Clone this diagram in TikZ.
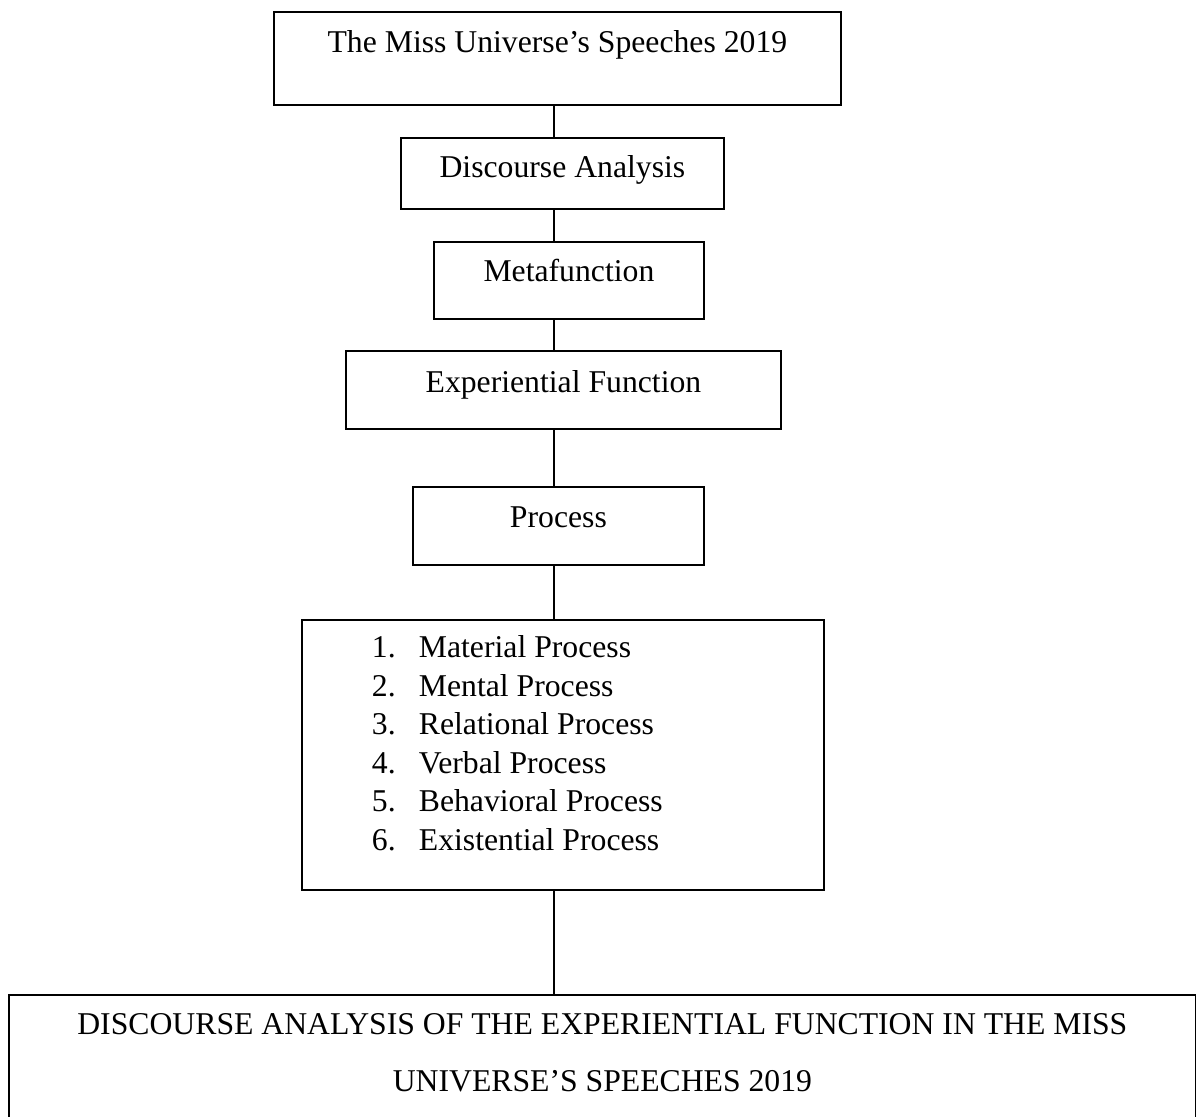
\documentclass[tikz,border=0pt]{standalone}
\usepackage{fontspec}
\setmainfont{Liberation Serif}
\newdimen\pxu
\pxu=0.3785pt

\begin{document}
\begin{tikzpicture}[x=\pxu, y=-\pxu,
		box/.style={draw, line width=0.7pt, inner sep=0pt, anchor=north west, font=\fontsize{12pt}{14.4pt}\selectfont},
		link/.style={line width=0.6pt}]
		\useasboundingbox (0,0) rectangle (1196,1117);
		\coordinate (spine) at (554,0);
		\node [box, minimum width=567\pxu, text height=41\pxu, text depth=52\pxu] (speech) at (273,11) {The Miss Universe’s Speeches 2019};
		\node [box, minimum width=323\pxu, text height=40\pxu, text depth=31\pxu] (discourse) at (400,137) {Discourse Analysis};
		\node [box, minimum width=270\pxu, text height=40\pxu, text depth=37\pxu] (meta) at (433,241) {Metafunction};
		\node [box, minimum width=435\pxu, text height=42\pxu, text depth=36\pxu] (exper) at (345,350) {Experiential Function};
		\node [box, minimum width=291\pxu, text height=41\pxu, text depth=37\pxu] (process) at (412,486) {Process};
		\node [box, text height=38\pxu, text depth=232\pxu] (types) at (301,619) {\parbox[t]{522\pxu}{\raggedright\baselineskip=38.5\pxu
			\hspace*{70\pxu}\makebox[47\pxu][l]{1.}Material Process\\
			\hspace*{70\pxu}\makebox[47\pxu][l]{2.}Mental Process\\
			\hspace*{70\pxu}\makebox[47\pxu][l]{3.}Relational Process\\
			\hspace*{70\pxu}\makebox[47\pxu][l]{4.}Verbal Process\\
			\hspace*{70\pxu}\makebox[47\pxu][l]{5.}Behavioral Process\\
			\hspace*{70\pxu}\makebox[47\pxu][l]{6.}Existential Process}};
		\node [box, text height=40\pxu, text depth=86\pxu] (title) at (8,994) {\parbox[t]{1187\pxu}{\centering\baselineskip=57\pxu
			DISCOURSE ANALYSIS OF THE EXPERIENTIAL FUNCTION IN THE MISS\\
			UNIVERSE’S SPEECHES 2019}};
		% connectors on the spine
		\draw [link] (speech.south -| spine) -- (discourse.north -| spine);
		\draw [link] (discourse.south -| spine) -- (meta.north -| spine);
		\draw [link] (meta.south -| spine) -- (exper.north -| spine);
		\draw [link] (exper.south -| spine) -- (process.north -| spine);
		\draw [link] (process.south -| spine) -- (types.north -| spine);
		\draw [link] (types.south -| spine) -- (title.north -| spine);
	\end{tikzpicture}
\end{document}
